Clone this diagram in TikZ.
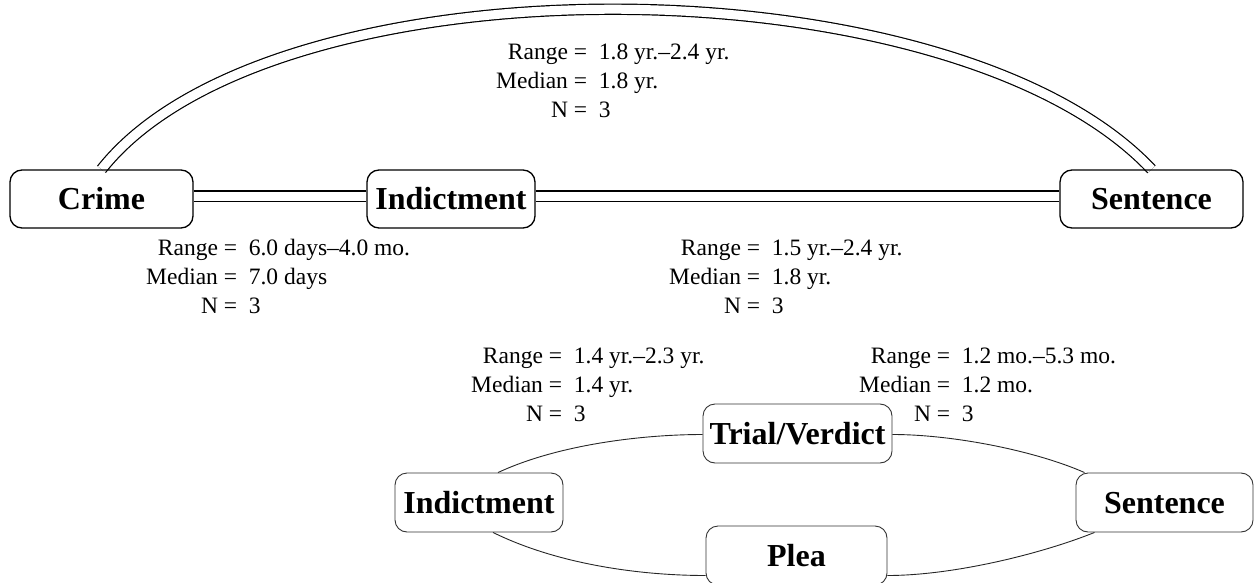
\documentclass[tikz,border=0pt]{standalone}
\usepackage{fontspec}
\setmainfont{Liberation Serif}
\usetikzlibrary{backgrounds}
\newcommand\statlines[3]{\begin{tabular}{@{}r@{\ =\ \ }l@{}}Range & #1\\ Median & #2\\ N & #3\end{tabular}}
\begin{document}
\begin{tikzpicture}[x=1pt,y=-1pt,
  box/.style={draw, line width=1.3pt, rounded corners=12pt, inner sep=0pt,
    minimum height=58pt, text height=21.6pt, text depth=0pt,
    font=\bfseries\fontsize{32}{36}\selectfont},
  boxb/.style={box, line width=0.9pt, draw=black!80},
  lbl/.style={anchor=north west, inner sep=0pt, font=\fontsize{23.5}{29}\selectfont},
  dbl/.style={double distance=9pt, line width=1.2pt},
  thinline/.style={line width=0.9pt, draw=black!85}]
\useasboundingbox (0,0) rectangle (1255,583);
% top row
\node[box, minimum width=183pt] (crime) at (101.5,199) {Crime};
\node[box, minimum width=168pt] (ind1) at (451,199) {Indictment};
\node[box, minimum width=183pt] (sen1) at (1151.5,199) {Sentence};
% bottom group
\node[boxb, minimum width=168pt, minimum height=59pt] (ind2) at (479,502.5) {Indictment};
\node[boxb, minimum width=189pt, minimum height=59pt] (trial) at (797.5,433.5) {Trial/Verdict};
\node[boxb, minimum width=181pt, minimum height=59pt] (plea) at (796.5,555.5) {Plea};
\node[boxb, minimum width=177pt, minimum height=59pt] (sen2) at (1164.5,502.5) {Sentence};
% labels
\node[lbl] (l1) at (496,38.7) {\statlines{1.8 yr.–2.4 yr.}{1.8 yr.}{3}};
\node[lbl] (l2) at (146,234.7) {\statlines{6.0 days–4.0 mo.}{7.0 days}{3}};
\node[lbl] (l3) at (669,234.7) {\statlines{1.5 yr.–2.4 yr.}{1.8 yr.}{3}};
\node[lbl] (l4) at (471,342.7) {\statlines{1.4 yr.–2.3 yr.}{1.4 yr.}{3}};
\node[lbl] (l5) at (859,342.7) {\statlines{1.2 mo.–5.3 mo.}{1.2 mo.}{3}};
\begin{pgfonlayer}{background}
\draw[dbl] ([yshift=3pt]crime.east) -- ([yshift=3pt]ind1.west);
\draw[dbl] ([yshift=3pt]ind1.east) -- ([yshift=3pt]sen1.west);
\draw[dbl] (crime.north) .. controls +(170,-215) and +(-200,-212) .. (sen1.north);
\draw[thinline] ([xshift=19pt]ind2.north) .. controls +(60,-28) and +(-60,0) .. ([yshift=-1pt]trial.west);
\draw[thinline] ([xshift=14pt]ind2.south) .. controls +(65,32) and +(-65,0) .. ([yshift=-20pt]plea.west);
\draw[thinline] ([yshift=-1pt]trial.east) .. controls +(60,0) and +(-50,-22) .. ([xshift=9pt]sen2.north west);
\draw[thinline] ([yshift=-20pt]plea.east) .. controls +(65,0) and +(-55,22) .. ([xshift=19pt]sen2.south west);
\end{pgfonlayer}
\end{tikzpicture}
\end{document}
